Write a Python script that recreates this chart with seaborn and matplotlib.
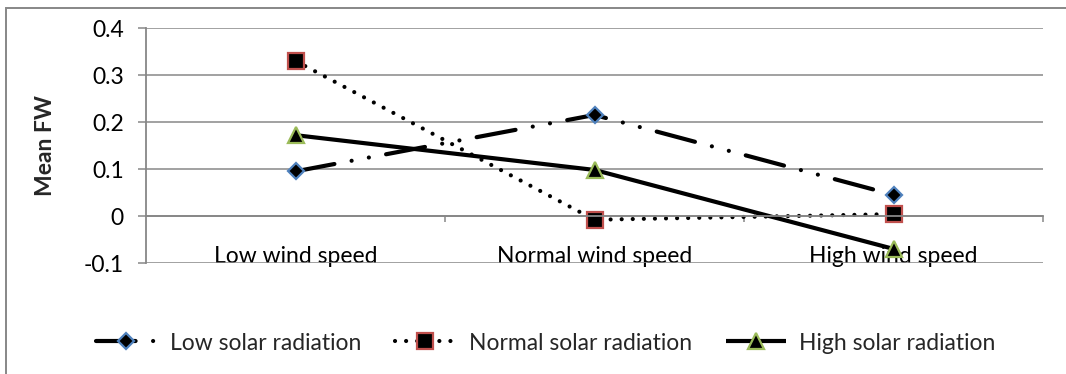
import matplotlib
matplotlib.use("Agg")
import matplotlib.pyplot as plt
from matplotlib.patches import Rectangle
import seaborn as sns
import pandas as pd

wind = ["Low wind speed", "Normal wind speed", "High wind speed"]
low_solar = [0.095, 0.215, 0.045]
normal_solar = [0.33, -0.008, 0.004]
high_solar = [0.172, 0.098, -0.07]
series_names = ["Low solar radiation", "Normal solar radiation", "High solar radiation"]
y_ticks = [-0.1, 0, 0.1, 0.2, 0.3, 0.4]

sns.set_theme(style="white")
plt.rcParams["font.family"] = ["Lato", "DejaVu Sans"]

GRID = "#878787"
LW = 3.0
FS = 16.5

fig = plt.figure(figsize=(10.66, 3.74), dpi=100)
ax = fig.add_axes([146 / 1066, 1 - 263 / 374, (1043 - 146) / 1066, (263 - 28) / 374])

styles = [
    dict(marker="D", markersize=8.6, markeredgecolor="#4F81BD",
         linestyle=(0, (9.5, 4.2, 0.01, 4.2, 0.01, 4.2)), dash_capstyle="round"),
    dict(marker="s", markersize=11.5, markeredgecolor="#C0504D",
         linestyle=(0, (0.01, 2.65)), dash_capstyle="round"),
    dict(marker="^", markersize=11.5, markeredgecolor="#9BBB59",
         linestyle="-", solid_capstyle="butt"),
]

for name, vals, st in zip(series_names, [low_solar, normal_solar, high_solar], styles):
    df = pd.DataFrame({"wind": wind, "FW": vals})
    sns.lineplot(data=df, x="wind", y="FW", ax=ax, color="black", linewidth=LW,
                 markerfacecolor="black", markeredgewidth=1.6,
                 errorbar=None, label=name, legend=False, **st)

ax.set_xlim(-0.5, 2.5)
ax.set_ylim(-0.1, 0.4)
ax.set_yticks(y_ticks)
ax.set_yticklabels(["-0.1", "0", "0.1", "0.2", "0.3", "0.4"])
ax.yaxis.grid(True, color=GRID, linewidth=1.1)
ax.set_axisbelow(True)

for s in ["top", "right"]:
    ax.spines[s].set_visible(False)
ax.spines["left"].set_color(GRID)
ax.spines["left"].set_linewidth(1.3)
ax.spines["bottom"].set_position(("data", 0))
ax.spines["bottom"].set_color(GRID)
ax.spines["bottom"].set_linewidth(1.3)

ax.set_xticks([0, 1, 2])
ax.set_xticklabels(wind)
ax.set_xticks([0.5, 1.5, 2.5], minor=True)
ax.tick_params(axis="x", which="major", length=0, pad=21.5, labelsize=FS, colors="black")
ax.tick_params(axis="x", which="minor", bottom=True, length=4, width=1.1, color=GRID, direction="out")
ax.tick_params(axis="y", left=True, length=6, width=1.1, color=GRID, pad=10, labelsize=FS, labelcolor="black")

ax.set_xlabel("")
ax.set_ylabel("Mean FW", fontsize=FS, fontweight="bold", labelpad=20)

handles = ax.get_lines()[:3]
fig.legend(handles, series_names, loc="center", bbox_to_anchor=(546 / 1066, 1 - 343 / 374),
           ncol=3, frameon=False, fontsize=FS, handlelength=2.6, handletextpad=0.6,
           columnspacing=1.5)

fig.patches.append(Rectangle((5.5 / 1066, -0.2), 1.5, 1.2 - 7.5 / 374, transform=fig.transFigure,
                             fill=False, edgecolor=GRID, linewidth=1.4))

fig.savefig("out.png", dpi=100)
